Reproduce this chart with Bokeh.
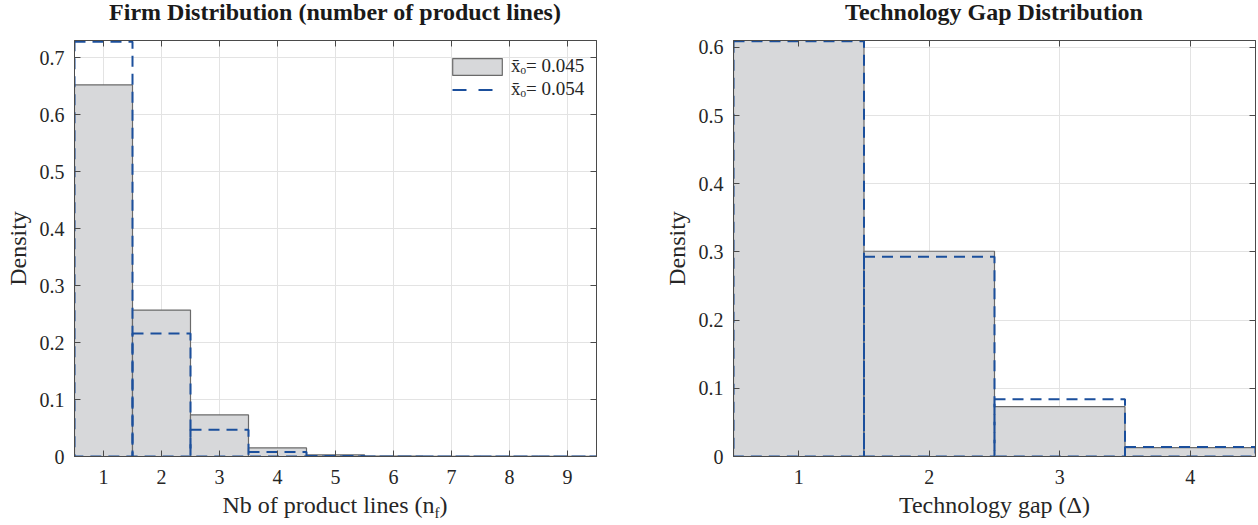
from bokeh.plotting import figure
from bokeh.models import (Range1d, FixedTicker, LinearAxis, CustomJSTickFormatter,
                          Legend, LegendItem, Div)
from bokeh.layouts import row, column
from bokeh.embed import file_html
from bokeh.resources import INLINE

# ---------------- data ----------------
firm_bins = [1, 2, 3, 4, 5, 6, 7, 8, 9]
firm_grey = [0.652, 0.257, 0.073, 0.015, 0.003, 0.0005, 0.0002, 0.0001, 0.0001]
firm_blue = [0.728, 0.216, 0.047, 0.008, 0.001, 0.0002, 0.0001, 0.0, 0.0]

gap_bins = [1, 2, 3, 4]
gap_grey = [0.610, 0.301, 0.073, 0.013]
gap_blue = [0.609, 0.293, 0.084, 0.014]

legend_labels = ["x\u0304\u2092= 0.045", "x\u0304\u2092= 0.054"]
firm_yticks = [0, 0.1, 0.2, 0.3, 0.4, 0.5, 0.6, 0.7]
gap_yticks = [0, 0.1, 0.2, 0.3, 0.4, 0.5, 0.6]

titles = ["Firm Distribution (number of product lines)", "Technology Gap Distribution"]

FONT = "Liberation Serif"
GREY_FILL = "#d7d8da"
GREY_EDGE = "#6a6a6a"
BLUE = "#1b4f9c"
AXIS_COL = "#4a4a4a"
TXT = "#262626"

fmt = CustomJSTickFormatter(code="return Math.abs(tick) < 1e-9 ? '0' : tick.toFixed(1);")
blank = CustomJSTickFormatter(code="return '';")


def title_div(text, left, right):
    return Div(text=text, width=522, height=26, margin=(0, right, 0, left),
               styles={"font-family": FONT, "font-size": "24px", "line-height": "24px",
                       "font-weight": "bold", "color": "#1a1a1a", "text-align": "center",
                       "white-space": "nowrap"})


def make_fig(bins, grey, blue, ymax, yticks, xlabel, border_left, border_right,
             frame_w, border_bottom):
    p = figure(width=None, height=None, frame_width=frame_w, frame_height=416,
               x_range=Range1d(bins[0] - 0.5, bins[-1] + 0.5),
               y_range=Range1d(0, ymax), title=None,
               output_backend="svg", toolbar_location=None,
               min_border_left=border_left, min_border_right=border_right,
               min_border_top=14, min_border_bottom=border_bottom)

    left = [b - 0.5 for b in bins]
    right = [b + 0.5 for b in bins]
    zeros = [0] * len(bins)
    rg = p.quad(left=left, right=right, top=grey, bottom=zeros,
                fill_color=GREY_FILL, line_color=GREY_EDGE, line_width=1.2)
    p.quad(left=left, right=right, top=blue, bottom=zeros,
           fill_alpha=0, line_color=BLUE, line_width=2, line_dash="11 7")

    p.outline_line_color = AXIS_COL
    p.outline_line_width = 1

    for ax in (p.xaxis[0], p.yaxis[0]):
        ax.axis_line_color = AXIS_COL
        ax.major_tick_line_color = AXIS_COL
        ax.major_tick_in = 6
        ax.major_tick_out = 0
        ax.minor_tick_line_color = None
        ax.major_label_text_font = FONT
        ax.major_label_text_font_size = "20px"
        ax.major_label_text_color = TXT
        ax.axis_label_text_font = FONT
        ax.axis_label_text_font_size = "24px"
        ax.axis_label_text_font_style = "normal"
        ax.axis_label_text_color = TXT

    p.xaxis.ticker = FixedTicker(ticks=bins)
    p.yaxis.ticker = FixedTicker(ticks=yticks)
    p.yaxis.formatter = fmt
    p.xaxis.major_label_standoff = 13
    p.yaxis.major_label_standoff = 10
    p.yaxis.axis_label = "Density"
    if xlabel:
        p.xaxis.axis_label = xlabel
    p.xaxis.axis_label_standoff = 5
    p.yaxis.axis_label_standoff = 6

    # mirrored tick marks on top and right
    top = LinearAxis(ticker=FixedTicker(ticks=bins), formatter=blank,
                     major_tick_in=6, major_tick_out=0, minor_tick_line_color=None,
                     axis_line_color=AXIS_COL, major_tick_line_color=AXIS_COL,
                     major_label_standoff=0)
    rt = LinearAxis(ticker=FixedTicker(ticks=yticks), formatter=blank,
                    major_tick_in=6, major_tick_out=0, minor_tick_line_color=None,
                    axis_line_color=AXIS_COL, major_tick_line_color=AXIS_COL,
                    major_label_standoff=0)
    p.add_layout(top, "above")
    p.add_layout(rt, "right")

    p.xgrid.ticker = FixedTicker(ticks=bins)
    p.ygrid.ticker = FixedTicker(ticks=yticks)
    p.grid.grid_line_color = "#e3e3e3"
    p.grid.grid_line_width = 1
    return p, rg


p1, g1 = make_fig(firm_bins, firm_grey, firm_blue,
                  0.73, firm_yticks, None, 74, 52, 522, 38)

# legend-only line (no visible data) for the dashed entry
dummy = p1.line(x=[float("nan")], y=[float("nan")], line_color=BLUE, line_width=2,
                line_dash="14 12 14 30", line_dash_offset=-6)
leg = Legend(items=[LegendItem(label=legend_labels[0], renderers=[g1]),
                    LegendItem(label=legend_labels[1], renderers=[dummy])],
             location=(372, 356), border_line_color=None, background_fill_alpha=0,
             label_text_font=FONT, label_text_font_size="19px", label_text_color=TXT,
             label_text_line_height=1.0,
             glyph_width=62, glyph_height=21, label_height=21, spacing=1,
             padding=0, margin=0, label_standoff=3)
p1.add_layout(leg)

# x-axis label of the left chart with its subscript: "Nb of product lines (n_f)"
xlab1 = Div(text='Nb of product lines (n<span style="font-size:15px;vertical-align:-5px">f</span>)',
            width=522, height=28, margin=(0, 52, 0, 74),
            styles={"font-family": FONT, "font-size": "24px", "line-height": "23px",
                    "color": TXT, "text-align": "center", "white-space": "nowrap"})

p2, g2 = make_fig(gap_bins, gap_grey, gap_blue,
                  0.61, gap_yticks, "Technology gap (\u0394)", 85, 2, 522, 66)

layout = row(column(title_div(titles[0], 74, 52), p1, xlab1, spacing=0),
             column(title_div(titles[1], 85, 2), p2, spacing=0),
             spacing=0)
open("out.html", "w").write(file_html(layout, INLINE))
